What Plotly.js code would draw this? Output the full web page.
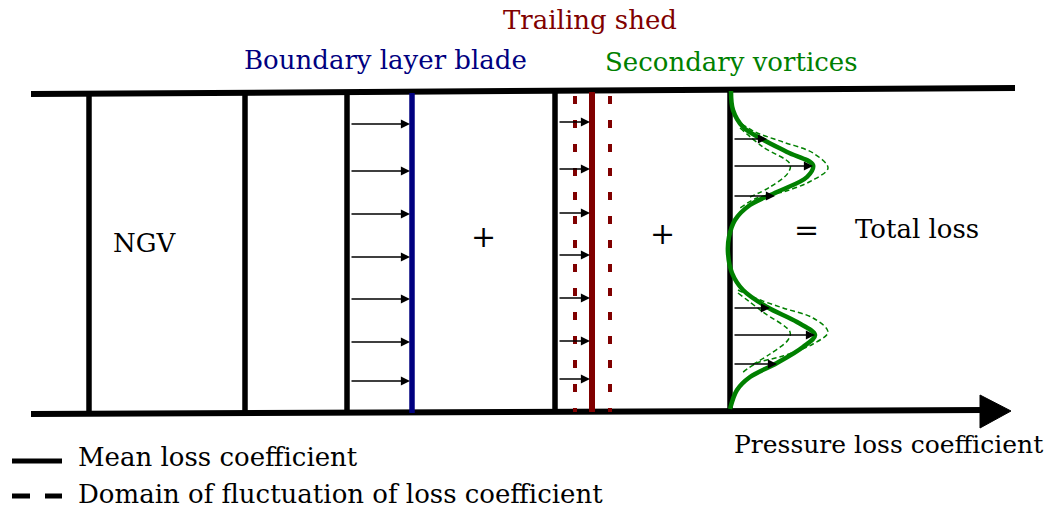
<!DOCTYPE html>
<html><head><meta charset="utf-8">
<script src="https://cdn.plot.ly/plotly-3.0.1.min.js"></script>
<style>html,body{margin:0;padding:0;background:#fff;}#chart{width:1054px;height:509px;}</style>
</head><body><div id="chart"></div>
<script>
// ---- diagram data (pixel-space coordinates) ----
const frameTopX = [31, 1015];
const frameTopY = [94, 88];
const frameBottomX = [31, 985];
const frameBottomY = [414, 410];
const axisHeadX = [980, 1011, 980, 980];
const axisHeadY = [395, 411, 428, 395];

const planeX = [89, 245, 347, 555, 730];
const planeTop = [94, 93, 93, 92, 91];
const planeBottom = [414, 413, 413, 412, 411];

const bladeX = 412;
const shedX = 592;
const shedBandX = [575, 610];

const blArrowY = [124, 171, 214, 257, 299, 342, 381];
const blArrowStart = 350;
const blArrowEnd = 410;
const tsArrowY = [122, 169, 213, 255, 298, 341, 379];
const tsArrowStart = 558;
const tsArrowEnd = 590;
const svArrowY = [139, 166, 196, 308, 335, 364];
const svArrowEnd = [767, 813, 775, 770, 815, 777];
const svArrowStart = 733;

const svCurveX = [731, 733, 743, 760, 787, 813, 807, 777, 750, 735, 729, 728, 732, 743, 767, 797, 815, 803, 777, 750, 737, 730];
const svCurveY = [91, 110, 127, 138, 152, 165, 177, 192, 205, 220, 237, 253, 273, 290, 307, 322, 335, 347, 363, 377, 390, 409];
const svOuter1X = [742, 755, 783, 813, 828, 813, 783, 757, 740];
const svOuter1Y = [124, 132, 142, 153, 168, 180, 192, 198, 208];
const svInner1X = [740, 763, 790, 788, 770, 750];
const svInner1Y = [128, 147, 164, 173, 187, 197];
const svOuter2X = [738, 755, 783, 813, 828, 813, 783, 757, 742];
const svOuter2Y = [290, 298, 308, 318, 332, 344, 356, 363, 373];
const svInner2X = [738, 763, 790, 788, 770, 750];
const svInner2Y = [293, 312, 332, 340, 354, 366];

const labels = ["Trailing shed", "Boundary layer blade", "Secondary vortices", "NGV", "+", "+", "=", "Total loss", "Pressure loss coefficient"];
const labelX = [590, 385, 731, 145, 483, 662, 806, 917, 888];
const labelY = [20, 60, 62, 243, 236, 233, 229, 229, 444];
const labelColor = ["#800000", "#000080", "#008000", "#000", "#000", "#000", "#000", "#000", "#000"];
const labelSize = [26, 26, 26, 26, 30, 30, 30, 26, 25];

const legendText = ["Mean loss coefficient", "Domain of fluctuation of loss coefficient"];
const legendY = [457, 494];

// ---- build ----
const FONT = "'DejaVu Serif', serif";
const traces = [];
function line(x, y, color, width, dash, shape) {
  traces.push({type: 'scatter', mode: 'lines', x: x, y: y, hoverinfo: 'skip',
    line: {color: color, width: width, dash: dash || 'solid', shape: shape || 'linear', smoothing: 1}});
}
line(frameTopX, frameTopY, '#000', 6);
line(frameBottomX, frameBottomY, '#000', 6);
traces.push({type: 'scatter', mode: 'lines', x: axisHeadX, y: axisHeadY, fill: 'toself', fillcolor: '#000', line: {color: '#000', width: 1}, hoverinfo: 'skip'});
planeX.forEach((px, i) => line([px, px], [planeTop[i], planeBottom[i]], '#000', 5.5));
line([bladeX, bladeX], [planeTop[2], planeBottom[2]], '#000080', 5.5);
line([shedX, shedX], [planeTop[3], planeBottom[3]], '#800000', 6);
shedBandX.forEach(px => line([px, px], [96, 412], '#800000', 4, '8px,16px'));
line(svOuter1X, svOuter1Y, '#008000', 1.5, '5px,3px', 'spline');
line(svInner1X, svInner1Y, '#008000', 1.5, '5px,3px', 'spline');
line(svOuter2X, svOuter2Y, '#008000', 1.5, '5px,3px', 'spline');
line(svInner2X, svInner2Y, '#008000', 1.5, '5px,3px', 'spline');
line(svCurveX, svCurveY, '#008000', 4.5, 'solid', 'spline');
// legend glyphs
line([12, 62], [461, 461], '#000', 5);
line([12, 30], [496, 496], '#000', 5);
line([45, 62], [496, 496], '#000', 5);

const ann = [];
function arrow(x0, x1, y) {
  ann.push({x: x1, y: y, ax: x0, ay: y, xref: 'x', yref: 'y', axref: 'x', ayref: 'y',
    text: '', showarrow: true, arrowhead: 2, arrowsize: 1.4, arrowwidth: 1.3, arrowcolor: '#000', standoff: 0});
}
blArrowY.forEach(y => arrow(blArrowStart, blArrowEnd, y));
tsArrowY.forEach(y => arrow(tsArrowStart, tsArrowEnd, y));
svArrowY.forEach((y, i) => arrow(svArrowStart, svArrowEnd[i], y));
labels.forEach((t, i) => ann.push({x: labelX[i], y: labelY[i], xref: 'x', yref: 'y', text: t, showarrow: false,
  xanchor: 'center', yanchor: 'middle', font: {family: FONT, size: labelSize[i], color: labelColor[i]}}));
legendText.forEach((t, i) => ann.push({x: 76, y: legendY[i], xref: 'x', yref: 'y', text: t, showarrow: false,
  xanchor: 'left', yanchor: 'middle', font: {family: FONT, size: 26, color: '#000'}}));

const layout = {
  width: 1054, height: 509, margin: {l: 0, r: 0, t: 0, b: 0},
  paper_bgcolor: '#fff', plot_bgcolor: '#fff', showlegend: false,
  xaxis: {range: [0, 1054], visible: false, fixedrange: true},
  yaxis: {range: [509, 0], visible: false, fixedrange: true},
  annotations: ann
};
Plotly.newPlot('chart', traces, layout, {staticPlot: true, displayModeBar: false});
</script></body></html>
